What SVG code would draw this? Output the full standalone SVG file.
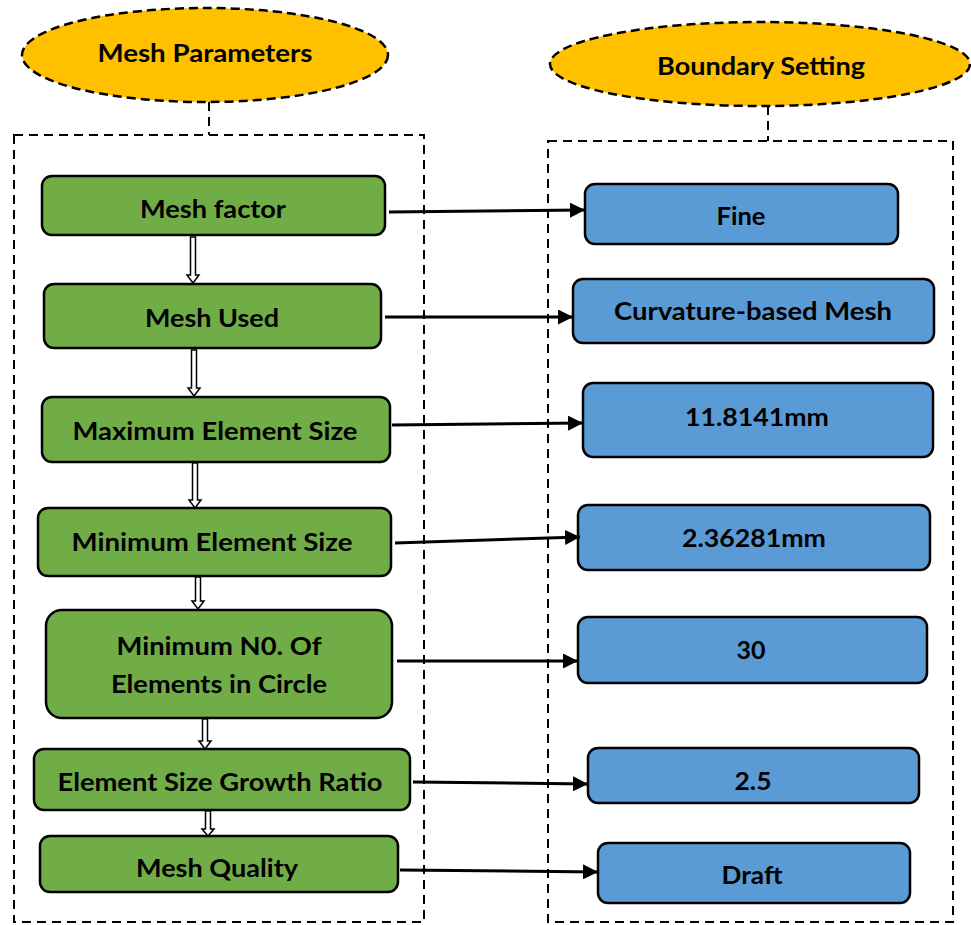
<svg xmlns="http://www.w3.org/2000/svg" width="971" height="925" viewBox="0 0 971 925">
<defs>
<style>
.t{font-family:Lato,"Open Sans","Liberation Sans",sans-serif;font-weight:bold;font-size:25px;fill:#000;text-anchor:middle}
.g{fill:#70AD47;stroke:#000;stroke-width:2.5}
.b{fill:#5B9BD5;stroke:#000;stroke-width:2.5}
.e{fill:#FFC000;stroke:#000;stroke-width:2.5;stroke-dasharray:9 5}
.d{fill:none;stroke:#000;stroke-width:2;stroke-dasharray:9 6}
.a{stroke:#000;stroke-width:3;fill:none;marker-end:url(#ah)}
.h{fill:#fff;stroke:#000;stroke-width:1.5}
</style>
<marker id="ah" viewBox="0 0 10 10" refX="10" refY="5" markerWidth="5" markerHeight="5" orient="auto" markerUnits="strokeWidth">
<path d="M0,0 L10,5 L0,10 z" fill="#000"/>
</marker>
</defs>
<rect width="971" height="925" fill="#fff"/>

<g id="frames">
<rect class="d" x="14" y="135" width="410" height="787"/>
<rect class="d" x="548" y="141" width="405" height="781"/>
<line class="d" x1="209" y1="102" x2="209" y2="135"/>
<line class="d" x1="768" y1="106" x2="768" y2="141"/>
</g>

<g id="mesh-parameters">
<ellipse class="e" cx="205" cy="55" rx="183" ry="47"/>
<text class="t" x="205" y="62" textLength="215" lengthAdjust="spacingAndGlyphs">Mesh Parameters</text>
</g>
<g id="boundary-setting">
<ellipse class="e" cx="760" cy="64" rx="210" ry="42"/>
<text class="t" x="761" y="75" textLength="208" lengthAdjust="spacingAndGlyphs">Boundary Setting</text>
</g>

<g id="mesh-factor">
<rect class="g" x="42" y="176" width="343" height="59" rx="10"/>
<text class="t" x="213" y="218" textLength="146" lengthAdjust="spacingAndGlyphs">Mesh factor</text>
</g>
<g id="mesh-used">
<rect class="g" x="44" y="284" width="337" height="64" rx="10"/>
<text class="t" x="212" y="327" textLength="134" lengthAdjust="spacingAndGlyphs">Mesh Used</text>
</g>
<g id="max-element-size">
<rect class="g" x="42" y="397" width="348" height="65" rx="10"/>
<text class="t" x="215" y="440" textLength="285" lengthAdjust="spacingAndGlyphs">Maximum Element Size</text>
</g>
<g id="min-element-size">
<rect class="g" x="38" y="508" width="353" height="68" rx="10"/>
<text class="t" x="212" y="551" textLength="281" lengthAdjust="spacingAndGlyphs">Minimum Element Size</text>
</g>
<g id="min-elements-circle">
<rect class="g" x="46" y="610" width="346" height="108" rx="16"/>
<text class="t" x="219" y="655" textLength="205" lengthAdjust="spacingAndGlyphs">Minimum N0. Of</text>
<text class="t" x="219" y="693" textLength="216" lengthAdjust="spacingAndGlyphs">Elements in Circle</text>
</g>
<g id="growth-ratio">
<rect class="g" x="34" y="749" width="376" height="61" rx="10"/>
<text class="t" x="220" y="791" textLength="325" lengthAdjust="spacingAndGlyphs">Element Size Growth Ratio</text>
</g>
<g id="mesh-quality">
<rect class="g" x="40" y="836" width="358" height="56" rx="10"/>
<text class="t" x="217" y="877" textLength="162" lengthAdjust="spacingAndGlyphs">Mesh Quality</text>
</g>

<g id="fine">
<rect class="b" x="585" y="184" width="313" height="60" rx="10"/>
<text class="t" x="741" y="225" textLength="49" lengthAdjust="spacingAndGlyphs">Fine</text>
</g>
<g id="curvature">
<rect class="b" x="573" y="279" width="361" height="64" rx="10"/>
<text class="t" x="753" y="320" textLength="278" lengthAdjust="spacingAndGlyphs">Curvature-based Mesh</text>
</g>
<g id="max-value">
<rect class="b" x="583" y="383" width="350" height="74" rx="10"/>
<text class="t" x="757" y="426" textLength="144" lengthAdjust="spacingAndGlyphs">11.8141mm</text>
</g>
<g id="min-value">
<rect class="b" x="578" y="505" width="352" height="65" rx="10"/>
<text class="t" x="754" y="547" textLength="144" lengthAdjust="spacingAndGlyphs">2.36281mm</text>
</g>
<g id="circle-value">
<rect class="b" x="578" y="617" width="349" height="66" rx="10"/>
<text class="t" x="751" y="659" textLength="29" lengthAdjust="spacingAndGlyphs">30</text>
</g>
<g id="ratio-value">
<rect class="b" x="588" y="748" width="331" height="55" rx="10"/>
<text class="t" x="753" y="790" textLength="37" lengthAdjust="spacingAndGlyphs">2.5</text>
</g>
<g id="draft">
<rect class="b" x="598" y="843" width="312" height="60" rx="10"/>
<text class="t" x="752" y="884" textLength="61" lengthAdjust="spacingAndGlyphs">Draft</text>
</g>

<g id="connectors">
<line class="a" x1="389" y1="212" x2="585" y2="210"/>
<line class="a" x1="385" y1="317" x2="573" y2="317"/>
<line class="a" x1="392" y1="425" x2="583" y2="423"/>
<line class="a" x1="395" y1="543" x2="580" y2="537"/>
<line class="a" x1="397" y1="661" x2="578" y2="661"/>
<line class="a" x1="413" y1="782" x2="588" y2="784"/>
<line class="a" x1="400" y1="870" x2="598" y2="872"/>
<polygon class="h" points="190.5,237 195.5,237 195.5,275 199,275 193,283 187,275 190.5,275"/>
<polygon class="h" points="191.5,350 196.5,350 196.5,388 200,388 194,396 188,388 191.5,388"/>
<polygon class="h" points="192.5,463 197.5,463 197.5,500 201,500 195,508 189,500 192.5,500"/>
<polygon class="h" points="195.5,577 200.5,577 200.5,601 204,601 198,609 192,601 195.5,601"/>
<polygon class="h" points="202.5,719 207.5,719 207.5,741 211,741 205,749 199,741 202.5,741"/>
<polygon class="h" points="205.5,811 210.5,811 210.5,829 214,829 208,836 202,829 205.5,829"/>
</g>
</svg>
